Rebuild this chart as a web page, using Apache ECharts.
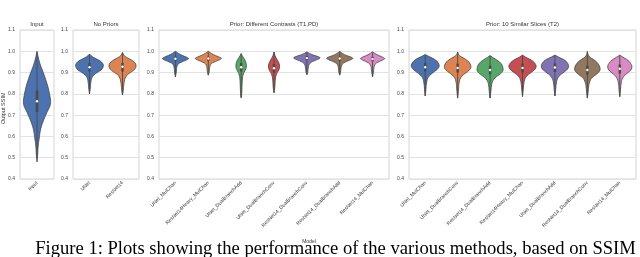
<!DOCTYPE html>
<html><head><meta charset="utf-8">
<script src="https://cdn.jsdelivr.net/npm/echarts@6/dist/echarts.min.js"></script>
<style>html,body{margin:0;padding:0;background:#fff}#c{width:640px;height:257px}</style>
</head><body><div id="c"></div>
<script>
// ---------- data ----------
const yMin = 0.4, yMax = 1.1, yStep = 0.1;
const panelTitles = ['Input', 'No Priors', 'Prior: Different Contrasts (T1,PD)', 'Prior: 10 Similar Slices (T2)'];
const catInput = ['Input'];
const catNoPriors = ['UNet', 'ResNet14'];
const catContrasts = ['UNet_MulChan', 'ResNet14Heavy_MulChan', 'UNet_DualBranchAdd', 'UNet_DualBranchConv', 'ResNet14_DualBranchConv', 'ResNet14_DualBranchAdd', 'ResNet14_MulChan'];
const catSlices = ['UNet_MulChan', 'UNet_DualBranchConv', 'ResNet14_DualBranchAdd', 'ResNet14Heavy_MulChan', 'UNet_DualBranchAdd', 'ResNet14_DualBranchConv', 'ResNet14_MulChan'];
const palette = ['#4C72B0', '#DD8452', '#55A868', '#C44E52', '#8172B3', '#937860', '#DA8BC3'];

// violin outlines: [SSIM value, half-width as fraction of category band], top to bottom
const violinInput = [
  [[1.0,0],[0.98,0.025],[0.96,0.055],[0.94,0.09],[0.92,0.135],[0.90,0.185],[0.87,0.25],[0.84,0.31],[0.81,0.355],[0.78,0.39],[0.76,0.40],[0.74,0.375],[0.72,0.31],[0.69,0.23],[0.66,0.155],[0.63,0.10],[0.60,0.073],[0.57,0.045],[0.54,0.027],[0.51,0.018],[0.48,0]]
];
const violinNoPriors = [
  [[0.987,0],[0.975,0.08],[0.965,0.2],[0.955,0.32],[0.945,0.39],[0.935,0.42],[0.925,0.41],[0.915,0.37],[0.905,0.28],[0.895,0.18],[0.885,0.11],[0.875,0.07],[0.86,0.045],[0.84,0.03],[0.82,0.02],[0.80,0]],
  [[0.995,0],[0.98,0.05],[0.97,0.14],[0.96,0.26],[0.95,0.35],[0.94,0.40],[0.93,0.41],[0.92,0.39],[0.91,0.33],[0.90,0.24],[0.89,0.15],[0.88,0.1],[0.87,0.07],[0.85,0.045],[0.83,0.03],[0.81,0.02],[0.795,0]]
];
const violinContrasts = [
  [[1.0,0],[0.99,0.09],[0.98,0.22],[0.972,0.34],[0.966,0.40],[0.96,0.35],[0.953,0.24],[0.946,0.14],[0.94,0.08],[0.93,0.05],[0.92,0.035],[0.90,0.025],[0.88,0]],
  [[1.0,0],[0.99,0.09],[0.98,0.22],[0.972,0.34],[0.967,0.40],[0.96,0.34],[0.953,0.23],[0.946,0.13],[0.94,0.08],[0.93,0.05],[0.915,0.035],[0.90,0.025],[0.888,0]],
  [[0.99,0],[0.98,0.03],[0.97,0.07],[0.96,0.11],[0.95,0.14],[0.94,0.155],[0.93,0.16],[0.92,0.15],[0.91,0.12],[0.90,0.085],[0.89,0.06],[0.88,0.045],[0.86,0.032],[0.83,0.025],[0.80,0.018],[0.78,0]],
  [[0.997,0],[0.98,0.03],[0.97,0.06],[0.96,0.1],[0.95,0.135],[0.94,0.16],[0.93,0.17],[0.92,0.165],[0.91,0.14],[0.90,0.1],[0.89,0.07],[0.88,0.05],[0.86,0.035],[0.83,0.025],[0.805,0]],
  [[0.997,0],[0.99,0.08],[0.982,0.2],[0.975,0.34],[0.969,0.40],[0.962,0.33],[0.955,0.22],[0.948,0.13],[0.94,0.075],[0.93,0.05],[0.915,0.035],[0.90,0.025],[0.89,0]],
  [[1.0,0],[0.99,0.08],[0.98,0.21],[0.973,0.34],[0.967,0.40],[0.96,0.33],[0.953,0.22],[0.946,0.13],[0.94,0.08],[0.93,0.05],[0.915,0.035],[0.90,0.025],[0.888,0]],
  [[0.997,0],[0.99,0.07],[0.98,0.19],[0.972,0.31],[0.966,0.37],[0.96,0.32],[0.953,0.22],[0.946,0.13],[0.94,0.08],[0.93,0.05],[0.915,0.035],[0.90,0.025],[0.88,0]]
];
const violinSlices = [
  [[0.985,0],[0.975,0.12],[0.965,0.26],[0.955,0.35],[0.945,0.40],[0.935,0.43],[0.925,0.42],[0.915,0.37],[0.905,0.29],[0.895,0.2],[0.885,0.13],[0.875,0.08],[0.86,0.05],[0.84,0.03],[0.82,0.022],[0.79,0]],
  [[0.997,0],[0.985,0.03],[0.975,0.1],[0.965,0.22],[0.955,0.31],[0.945,0.37],[0.935,0.4],[0.925,0.41],[0.915,0.38],[0.905,0.31],[0.895,0.22],[0.885,0.14],[0.875,0.09],[0.86,0.055],[0.84,0.035],[0.81,0.022],[0.78,0]],
  [[0.98,0],[0.97,0.09],[0.96,0.2],[0.95,0.29],[0.94,0.35],[0.93,0.385],[0.92,0.40],[0.91,0.40],[0.90,0.36],[0.89,0.28],[0.88,0.19],[0.87,0.12],[0.86,0.08],[0.845,0.05],[0.83,0.035],[0.81,0.025],[0.78,0]],
  [[0.982,0],[0.972,0.1],[0.962,0.23],[0.952,0.33],[0.942,0.39],[0.932,0.42],[0.922,0.41],[0.912,0.36],[0.902,0.28],[0.892,0.19],[0.882,0.12],[0.872,0.08],[0.857,0.05],[0.837,0.03],[0.817,0.022],[0.787,0]],
  [[0.982,0],[0.972,0.12],[0.962,0.26],[0.952,0.35],[0.942,0.40],[0.932,0.42],[0.922,0.41],[0.912,0.36],[0.902,0.28],[0.892,0.19],[0.882,0.12],[0.872,0.08],[0.857,0.05],[0.837,0.03],[0.817,0.022],[0.79,0]],
  [[1.0,0],[0.985,0.02],[0.972,0.08],[0.962,0.18],[0.952,0.27],[0.942,0.33],[0.932,0.37],[0.922,0.39],[0.912,0.39],[0.902,0.35],[0.892,0.28],[0.882,0.19],[0.872,0.12],[0.86,0.08],[0.845,0.05],[0.825,0.032],[0.805,0.022],[0.78,0]],
  [[0.982,0],[0.972,0.1],[0.962,0.21],[0.952,0.29],[0.942,0.34],[0.932,0.37],[0.922,0.37],[0.912,0.34],[0.902,0.27],[0.892,0.19],[0.882,0.12],[0.872,0.08],[0.857,0.05],[0.837,0.03],[0.817,0.022],[0.787,0]]
];
// inner box: [lower whisker, Q1, median, Q3, upper whisker]
const statsInput = [[0.50, 0.715, 0.765, 0.815, 0.995]];
const statsNoPriors = [[0.80, 0.905, 0.925, 0.945, 0.985], [0.795, 0.905, 0.927, 0.945, 0.99]];
const statsContrasts = [[0.88, 0.955, 0.965, 0.975, 0.995], [0.888, 0.955, 0.966, 0.975, 0.995], [0.785, 0.905, 0.925, 0.945, 0.985], [0.805, 0.90, 0.92, 0.94, 0.995], [0.89, 0.958, 0.968, 0.977, 0.995], [0.888, 0.955, 0.966, 0.975, 0.995], [0.88, 0.953, 0.964, 0.974, 0.995]];
const statsSlices = [[0.79, 0.905, 0.925, 0.945, 0.982], [0.78, 0.90, 0.922, 0.942, 0.995], [0.78, 0.892, 0.912, 0.932, 0.978], [0.787, 0.90, 0.922, 0.942, 0.98], [0.79, 0.903, 0.924, 0.943, 0.98], [0.78, 0.89, 0.912, 0.933, 0.995], [0.787, 0.895, 0.918, 0.938, 0.98]];

// ---------- layout ----------
const grids = [
  {left: 20, width: 34},
  {left: 73, width: 66},
  {left: 159, width: 230},
  {left: 409, width: 227}
];
const cats = [catInput, catNoPriors, catContrasts, catSlices];
const violins = [violinInput, violinNoPriors, violinContrasts, violinSlices];
const stats = [statsInput, statsNoPriors, statsContrasts, statsSlices];
const FONT = 'Liberation Sans';

function renderer(profiles, st, colors) {
  return function (params, api) {
    const i = params.dataIndex;
    const band = api.size([1, 0])[0];
    const cx = api.coord([i, 0.7])[0];
    const prof = profiles[i];
    const right = [], left = [];
    prof.forEach(function (p) {
      const y = api.coord([i, p[0]])[1];
      right.push([cx + p[1] * band, y]);
      left.push([cx - p[1] * band, y]);
    });
    const pts = right.concat(left.reverse());
    const s = st[i];
    const yLo = api.coord([i, s[0]])[1], yQ1 = api.coord([i, s[1]])[1], yMed = api.coord([i, s[2]])[1], yQ3 = api.coord([i, s[3]])[1], yHi = api.coord([i, s[4]])[1];
    const bw = Math.max(2.2, band * 0.075);
    return {
      type: 'group',
      children: [
        {type: 'polygon', shape: {points: pts, smooth: 0.35}, style: {fill: colors[i], stroke: '#474747', lineWidth: 0.8}},
        {type: 'line', shape: {x1: cx, y1: yLo, x2: cx, y2: yHi}, style: {stroke: '#4a4a4a', lineWidth: 0.9}},
        {type: 'rect', shape: {x: cx - bw / 2, y: yQ3, width: bw, height: yQ1 - yQ3}, style: {fill: '#4a4a4a'}},
        {type: 'circle', shape: {cx: cx, cy: yMed, r: 1.2}, style: {fill: '#ffffff'}}
      ]
    };
  };
}

const titleTexts = grids.map(function (g, k) {
  return {type: 'text', x: g.left + g.width / 2, y: 21, style: {text: panelTitles[k], fontFamily: FONT, fontSize: 6, fill: '#333', textAlign: 'center'}};
});

const option = {
  animation: false,
  backgroundColor: '#ffffff',
  grid: grids.map(function (g) {
    return {left: g.left, width: g.width, top: 30, bottom: 78, show: true, borderColor: '#d4d4d4', borderWidth: 1, backgroundColor: 'transparent'};
  }),
  xAxis: grids.map(function (g, k) {
    return {type: 'category', gridIndex: k, data: cats[k], boundaryGap: true,
      axisLine: {show: false}, axisTick: {show: false}, splitLine: {show: false},
      axisLabel: {rotate: 45, interval: 0, margin: 3, fontSize: 5, fontFamily: FONT, color: '#333'}};
  }),
  yAxis: grids.map(function (g, k) {
    return {type: 'value', gridIndex: k, min: yMin, max: yMax, interval: yStep,
      axisLine: {show: false}, axisTick: {show: false},
      splitLine: {show: true, lineStyle: {color: '#e2e2e2', width: 1}},
      axisLabel: {margin: 5, fontSize: 5, fontFamily: FONT, color: '#444', formatter: function (v) { return v.toFixed(1); }}};
  }),
  series: grids.map(function (g, k) {
    const colors = k === 0 ? [palette[0]] : palette;
    return {type: 'custom', xAxisIndex: k, yAxisIndex: k,
      data: cats[k].map(function (c, i) { return [i, stats[k][i][2]]; }),
      renderItem: renderer(violins[k], stats[k], colors)};
  }),
  graphic: titleTexts.concat([
    {type: 'text', rotation: Math.PI / 2, x: 0.5, y: 124, style: {text: 'Output SSIM', fontFamily: FONT, fontSize: 5.5, fill: '#333'}},
    {type: 'text', x: 309, y: 239, style: {text: 'Model', fontFamily: FONT, fontSize: 5, fill: '#333', textAlign: 'center'}},
    {type: 'text', x: 335.5, y: 240, style: {text: 'Figure 1: Plots showing the performance of the various methods, based on SSIM', fontFamily: 'Liberation Serif', fontSize: 18.6, fill: '#000', textAlign: 'center'}}
  ])
};
const chart = echarts.init(document.getElementById('c'), null, {renderer: 'canvas'});
chart.setOption(option);
</script></body></html>
